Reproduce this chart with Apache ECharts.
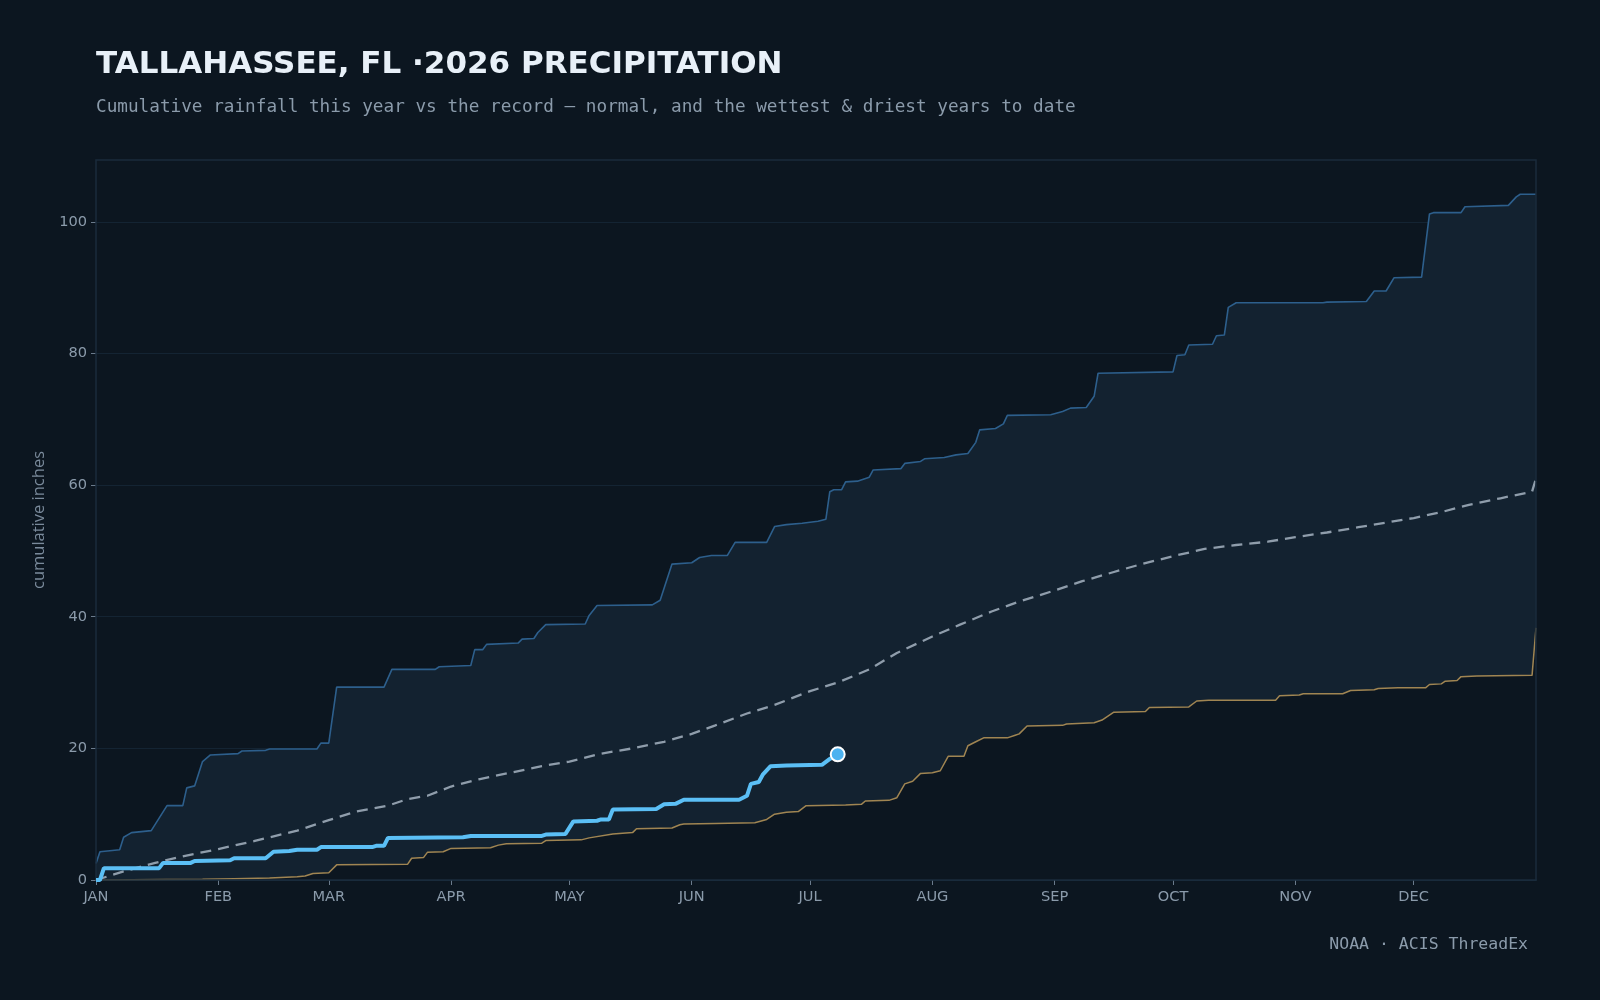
<!DOCTYPE html>
<html>
<head>
<meta charset="utf-8">
<script src="https://cdn.jsdelivr.net/npm/echarts@6/dist/echarts.min.js"></script>
<style>
html,body{margin:0;padding:0;background:#0c1620;}
#chart{width:1600px;height:1000px;}
</style>
</head>
<body>
<div id="chart"></div>
<script>
// Month tick labels and their day-of-year positions
const monthLabels = ['JAN','FEB','MAR','APR','MAY','JUN','JUL','AUG','SEP','OCT','NOV','DEC'];
const monthStarts = [0,31,59,90,120,151,181,212,243,273,304,334];

// Wettest year to date: [dayOfYear, cumulative inches]
const wettest = [[0,2.5],[1,4.3],[6,4.6],[7,6.5],[9,7.2],[14,7.5],[18,11.3],[22,11.3],[23,14.0],[25,14.3],[27,18.0],[29,19.0],[36,19.2],[37,19.6],[43,19.7],[44,19.9],[56,19.9],[57,20.8],[59,20.8],[61,29.3],[73,29.3],[75,32.0],[86,32.0],[87,32.4],[95,32.6],[96,35.0],[98,35.0],[99,35.8],[107,36.0],[108,36.6],[111,36.7],[112,37.6],[114,38.8],[124,38.9],[125,40.2],[127,41.7],[141,41.8],[143,42.5],[146,48.0],[151,48.2],[153,49.0],[156,49.3],[160,49.3],[162,51.3],[170,51.3],[172,53.7],[175,54.0],[179,54.2],[183,54.5],[185,54.8],[186,59.0],[187,59.3],[189,59.3],[190,60.5],[193,60.6],[196,61.2],[197,62.3],[204,62.5],[205,63.3],[209,63.6],[210,64.0],[215,64.2],[218,64.6],[221,64.8],[223,66.5],[224,68.4],[228,68.6],[230,69.3],[231,70.6],[242,70.7],[245,71.2],[247,71.7],[251,71.8],[253,73.5],[254,77.0],[273,77.2],[274,79.7],[276,79.8],[277,81.3],[283,81.4],[284,82.7],[286,82.8],[287,87.0],[289,87.7],[311,87.7],[312,87.8],[322,87.9],[324,89.5],[327,89.5],[329,91.5],[336,91.6],[338,101.2],[339,101.4],[346,101.4],[347,102.3],[358,102.5],[360,103.8],[361,104.2],[365,104.2]];

// Driest year to date
const driest = [[0,0],[27,0.1],[35,0.2],[44,0.3],[51,0.5],[53,0.6],[55,1.0],[59,1.1],[61,2.3],[79,2.4],[80,3.3],[83,3.4],[84,4.2],[88,4.3],[90,4.8],[100,4.9],[102,5.3],[104,5.5],[113,5.6],[114,6.0],[123,6.1],[125,6.4],[131,7.0],[136,7.2],[137,7.8],[146,7.9],[148,8.4],[149,8.5],[157,8.6],[167,8.7],[170,9.2],[172,10.0],[175,10.3],[178,10.4],[180,11.3],[190,11.4],[194,11.5],[195,12.0],[201,12.1],[203,12.5],[205,14.6],[207,15.0],[209,16.2],[212,16.3],[214,16.6],[216,18.8],[220,18.8],[221,20.4],[223,21.0],[225,21.6],[231,21.6],[233,22.0],[234,22.2],[236,23.4],[245,23.5],[246,23.7],[253,23.9],[255,24.3],[258,25.5],[266,25.6],[267,26.2],[277,26.3],[279,27.2],[282,27.3],[299,27.3],[300,28.0],[305,28.1],[306,28.3],[316,28.3],[318,28.8],[324,28.9],[325,29.1],[330,29.2],[337,29.2],[338,29.7],[341,29.8],[342,30.2],[345,30.3],[346,30.9],[350,31.0],[364,31.1],[365,38.3]];

// Normal cumulative precipitation
const normal = [[0,0],[7,1.3],[15,2.6],[22,3.6],[31,4.7],[40,5.9],[51,7.5],[59,9.1],[66,10.4],[74,11.3],[79,12.3],[84,12.8],[90,14.2],[97,15.3],[105,16.3],[113,17.3],[120,18.0],[128,19.2],[136,20.0],[144,21.0],[151,22.2],[157,23.5],[165,25.3],[172,26.6],[181,28.7],[188,30.0],[196,32.0],[203,34.5],[212,37.0],[219,38.8],[227,40.8],[234,42.3],[243,44.0],[250,45.4],[258,46.8],[265,48.0],[273,49.2],[281,50.3],[289,50.9],[297,51.4],[304,52.1],[312,52.8],[320,53.6],[328,54.4],[334,55.0],[341,55.9],[348,57.0],[356,58.0],[364,59.0],[365,61.0]];

// 2026 so far
const thisYear = [[0,0],[1,0],[2,1.8],[16,1.8],[17,2.6],[24,2.6],[25,2.9],[34,3.0],[35,3.3],[43,3.3],[45,4.3],[49,4.4],[51,4.6],[56,4.6],[57,5.0],[70,5.0],[71,5.2],[73,5.2],[74,6.4],[93,6.5],[95,6.7],[113,6.7],[114,6.9],[119,7.0],[121,8.9],[127,9.0],[128,9.2],[130,9.2],[131,10.7],[142,10.8],[144,11.5],[147,11.6],[149,12.2],[163,12.2],[165,12.8],[166,14.6],[168,14.9],[169,16.0],[171,17.3],[175,17.4],[184,17.5],[186,18.4],[188,19.1]];

const yTicks = [0,20,40,60,80,100];

const BG = '#0c1620';
const LABEL = '#8b9bab';

const chart = echarts.init(document.getElementById('chart'), null, {renderer:'canvas'});
chart.setOption({
  backgroundColor: BG,
  animation: false,
  title: [
    {text:'TALLAHASSEE, FL ·2026 PRECIPITATION', left:96, top:49, padding:0,
     textStyle:{color:'#e8f0f8', fontFamily:'DejaVu Sans', fontWeight:'bold', fontSize:31}},
    {text:'Cumulative rainfall this year vs the record — normal, and the wettest & driest years to date', left:96, top:98, padding:0,
     textStyle:{color:LABEL, fontFamily:'DejaVu Sans Mono', fontWeight:'normal', fontSize:17.7}},
    {text:'NOAA · ACIS ThreadEx', right:72, top:936, padding:0,
     textStyle:{color:LABEL, fontFamily:'DejaVu Sans Mono', fontWeight:'normal', fontSize:16.5}}
  ],
  grid: {left:96, right:64, top:160, bottom:120, show:true, z:5, backgroundColor:'transparent', borderColor:'#1a2b3b', borderWidth:1.5},
  xAxis: {
    type:'value', min:0, max:365,
    axisLine:{show:true, lineStyle:{color:'#1e3345', width:1.5}},
    axisTick:{show:true, customValues:monthStarts, length:5, lineStyle:{color:'#6b7b8c'}},
    axisLabel:{customValues:monthStarts, color:LABEL, fontFamily:'DejaVu Sans', fontSize:14.6, margin:10,
      formatter:(v)=>{const i=monthStarts.indexOf(Math.round(v)); return i>=0?monthLabels[i]:'';}},
    splitLine:{show:false}
  },
  yAxis: {
    type:'value', min:0, max:109.4, interval:20,
    name:'cumulative inches', nameLocation:'middle', nameGap:42, nameRotate:90,
    nameTextStyle:{color:'#7a8a9b', fontFamily:'Open Sans', fontSize:16.5},
    axisLine:{show:false},
    axisTick:{show:true, customValues:yTicks, length:5, lineStyle:{color:'#6b7b8c'}},
    axisLabel:{customValues:yTicks, color:LABEL, fontFamily:'DejaVu Sans', fontSize:14.6, margin:9},
    splitLine:{show:true, lineStyle:{color:'#142433', width:1}}
  },
  series: [
    {name:'wettest', type:'line', data:wettest, symbol:'none', z:2,
     lineStyle:{color:'#2d5f8c', width:1.6}, areaStyle:{color:'#132230', opacity:1, origin:'start'}},
    {name:'driest', type:'line', data:driest, symbol:'none', z:3,
     lineStyle:{color:'#a08552', width:1.5}, areaStyle:{color:BG, opacity:1, origin:'start'}},
    {name:'normal', type:'line', data:normal, symbol:'none', z:4,
     lineStyle:{color:'#8f9dab', width:2.3, type:[11,7]}},
    {name:'2026', type:'line', data:thisYear, symbol:'none', z:6,
     lineStyle:{color:'#5bbff5', width:4}},
    {name:'latest', type:'scatter', data:[thisYear[thisYear.length-1]], z:7,
     symbolSize:14, itemStyle:{color:'#4cb2f0', borderColor:'#ffffff', borderWidth:2, opacity:1}}
  ]
});
</script>
</body>
</html>
